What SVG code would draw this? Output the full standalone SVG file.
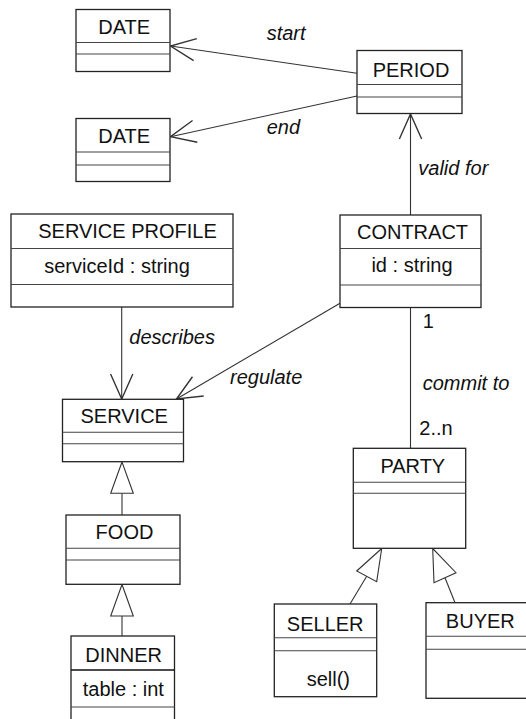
<svg xmlns="http://www.w3.org/2000/svg" width="526" height="719" viewBox="0 0 526 719">
<defs>
<style>
.box{fill:#fff;stroke:#222;stroke-width:1.3}
.div{stroke:#444;stroke-width:1.1;fill:none}
.t{font-family:"Liberation Sans",Arial,sans-serif;font-size:20px;fill:#111;text-anchor:middle}
.lbl{font-family:"Liberation Sans",Arial,sans-serif;font-size:20px;font-style:italic;fill:#111}
.mul{font-family:"Liberation Sans",Arial,sans-serif;font-size:20px;fill:#111}
.ln{stroke:#333;stroke-width:1.1;fill:none}
.gen{fill:#fff;stroke:#333;stroke-width:1.1}
</style>
<marker id="open" markerUnits="userSpaceOnUse" markerWidth="30" markerHeight="30" viewBox="-22 -12 24 24" refX="0" refY="0" orient="auto">
<path d="M-20,-8.9 L0,0 L-20,8.9" fill="none" stroke="#333" stroke-width="1.1"/>
</marker>
</defs>

<g id="connectors">
<line class="ln" x1="357" y1="73.3" x2="170.5" y2="46" marker-end="url(#open)"/>
<line class="ln" x1="357" y1="96" x2="170.5" y2="136.7" marker-end="url(#open)"/>
<line class="ln" x1="410.5" y1="215" x2="410.5" y2="114" marker-end="url(#open)"/>
<line class="ln" x1="121.7" y1="307" x2="121.7" y2="399" marker-end="url(#open)"/>
<line class="ln" x1="340" y1="303.3" x2="176.5" y2="399" marker-end="url(#open)"/>
<line class="ln" x1="410.5" y1="307.5" x2="410.5" y2="448.3"/>
<line class="ln" x1="122" y1="493.3" x2="122" y2="515"/>
<polygon class="gen" points="122,462 110.7,493.3 133.3,493.3"/>
<line class="ln" x1="122" y1="616" x2="122" y2="636"/>
<polygon class="gen" points="122,584.5 110.7,616 133.3,616"/>
<line class="ln" x1="366.7" y1="576.3" x2="350" y2="604"/>
<polygon class="gen" points="381.7,548.5 356.7,571 376.7,581.7"/>
<line class="ln" x1="445" y1="577.7" x2="455" y2="602.7"/>
<polygon class="gen" points="432.7,548.5 434,582.7 456,572.7"/>
<text class="lbl" x="266.7" y="40">start</text>
<text class="lbl" x="266.7" y="134">end</text>
<text class="lbl" x="418.3" y="175">valid for</text>
<text class="lbl" x="129.3" y="343.5">describes</text>
<text class="lbl" x="230" y="383.5">regulate</text>
<text class="lbl" x="422.7" y="390">commit to</text>
<text class="mul" x="422.7" y="328.3">1</text>
<text class="mul" x="419.3" y="435">2..n</text>
</g>

<g id="date1">
<rect class="box" x="76" y="9.5" width="94" height="62"/>
<line class="div" x1="76" y1="42.5" x2="170" y2="42.5"/>
<line class="div" x1="76" y1="54" x2="170" y2="54"/>
<text class="t" x="124.2" y="33.5">DATE</text>
</g>

<g id="date2">
<rect class="box" x="76" y="118.5" width="94" height="63"/>
<line class="div" x1="76" y1="152" x2="170" y2="152"/>
<line class="div" x1="76" y1="165" x2="170" y2="165"/>
<text class="t" x="124.2" y="143.3">DATE</text>
</g>

<g id="period">
<rect class="box" x="357" y="50.5" width="105" height="63"/>
<line class="div" x1="357" y1="84.5" x2="462" y2="84.5"/>
<line class="div" x1="357" y1="97" x2="462" y2="97"/>
<text class="t" x="411" y="76.5">PERIOD</text>
</g>

<g id="contract">
<rect class="box" x="340" y="215" width="141" height="92.5"/>
<line class="div" x1="340" y1="248.5" x2="481" y2="248.5"/>
<line class="div" x1="340" y1="285" x2="481" y2="285"/>
<text class="t" x="412.5" y="238.5">CONTRACT</text>
<text class="t" x="412" y="271.7">id : string</text>
</g>

<g id="service-profile">
<rect class="box" x="11" y="214" width="222" height="93"/>
<line class="div" x1="11" y1="248.5" x2="233" y2="248.5"/>
<line class="div" x1="11" y1="284.5" x2="233" y2="284.5"/>
<text class="t" x="127.5" y="238.3">SERVICE PROFILE</text>
<text class="t" x="117" y="273.3">serviceId : string</text>
</g>

<g id="service">
<rect class="box" x="62.5" y="399.3" width="121" height="62.4"/>
<line class="div" x1="62.5" y1="432.3" x2="183.5" y2="432.3"/>
<line class="div" x1="62.5" y1="443.7" x2="183.5" y2="443.7"/>
<text class="t" x="124.2" y="423.3">SERVICE</text>
</g>

<g id="food">
<rect class="box" x="66" y="515" width="114" height="69.3"/>
<line class="div" x1="66" y1="548.3" x2="180" y2="548.3"/>
<line class="div" x1="66" y1="560" x2="180" y2="560"/>
<text class="t" x="124.5" y="539">FOOD</text>
</g>

<g id="dinner">
<rect class="box" x="71" y="636" width="103.5" height="95"/>
<line class="div" x1="71" y1="670" x2="174.5" y2="670" style="stroke:#111;stroke-width:1.6"/>
<line class="div" x1="71" y1="707" x2="174.5" y2="707"/>
<text class="t" x="123.7" y="661.7">DINNER</text>
<text class="t" x="123.3" y="696">table : int</text>
</g>

<g id="party">
<rect class="box" x="353.3" y="448.3" width="112.4" height="100"/>
<line class="div" x1="353.3" y1="482.3" x2="465.7" y2="482.3"/>
<line class="div" x1="353.3" y1="493.3" x2="465.7" y2="493.3"/>
<text class="t" x="412.8" y="473.3">PARTY</text>
</g>

<g id="seller">
<rect class="box" x="274.3" y="604" width="102.4" height="92.7"/>
<line class="div" x1="274.3" y1="637.7" x2="376.7" y2="637.7"/>
<line class="div" x1="274.3" y1="650.7" x2="376.7" y2="650.7"/>
<text class="t" x="325.2" y="630.7">SELLER</text>
<text class="t" x="328.3" y="686">sell()</text>
</g>

<g id="buyer">
<rect class="box" x="426" y="602.7" width="110" height="95.6"/>
<line class="div" x1="426" y1="636.3" x2="536" y2="636.3"/>
<line class="div" x1="426" y1="649.3" x2="536" y2="649.3"/>
<text class="t" x="480.3" y="628.3">BUYER</text>
</g>
</svg>
